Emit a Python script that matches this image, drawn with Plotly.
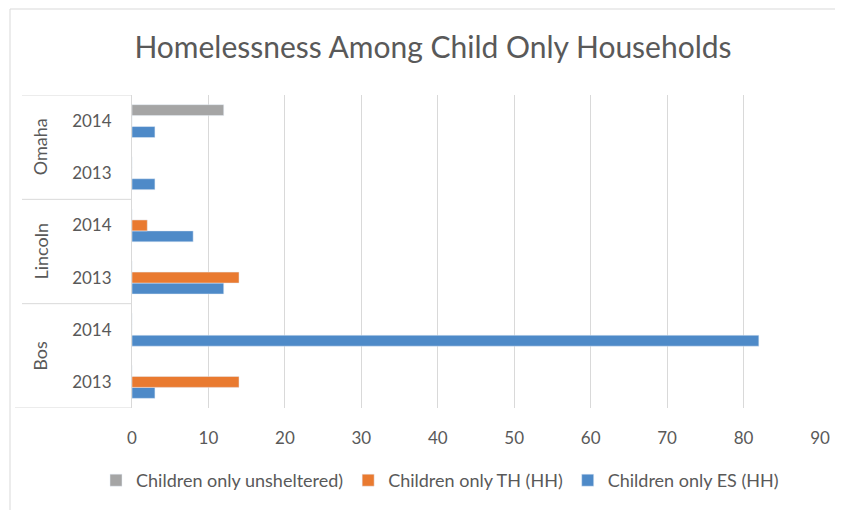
import plotly.graph_objects as go

# ---- data ----
cities = ["Bos", "Bos", "Lincoln", "Lincoln", "Omaha", "Omaha"]
years = ["2013", "2014", "2013", "2014", "2013", "2014"]
es_hh = [3, 82, 12, 8, 3, 3]
th_hh = [14, 0, 14, 2, 0, 0]
unsheltered = [0, 0, 0, 0, 0, 12]
x_ticks = [0, 10, 20, 30, 40, 50, 60, 70, 80, 90]
group_names = ["Bos", "Lincoln", "Omaha"]

cats = [f"{c} {y}" for c, y in zip(cities, years)]

FONT = "Lato"
TXT = "#595959"
OFF = 8  # page body margin offset

fig = go.Figure()
fig.add_trace(go.Bar(y=cats, x=es_hh, orientation="h", name="Children only ES (HH)",
                     marker=dict(color="#4E8AC8")))
fig.add_trace(go.Bar(y=cats, x=th_hh, orientation="h", name="Children only TH (HH)",
                     marker=dict(color="#E97A30")))
fig.add_trace(go.Bar(y=cats, x=unsheltered, orientation="h", name="Children only unsheltered)",
                     marker=dict(color="#A5A5A5")))

# target (reference) pixel geometry
PL, PR, PT, PB = 132, 820, 95, 408
W, H = 843 - OFF, 510 - OFF
L, T = PL - OFF, PT - OFF
R = W - (PR - OFF)
B = H - (PB - OFF)
pw, ph = PR - PL, PB - PT

def px(xpix):
    return (xpix - PL) / pw

def py(ypix):
    return (PB - ypix) / ph

shapes = []
# chart border
shapes.append(dict(type="rect", xref="paper", yref="paper", x0=px(10), x1=px(860),
                   y0=py(530), y1=py(9), line=dict(color="#D9D9D9", width=1)))
# category separators
for yv, x0 in [(5.5, 22), (3.5, 22), (1.5, 22), (-0.5, 15)]:
    shapes.append(dict(type="line", xref="paper", yref="y", x0=px(x0), x1=0,
                       y0=yv, y1=yv, line=dict(color="#D9D9D9", width=1)))

annotations = []
for i, g in enumerate(group_names):
    annotations.append(dict(text=g, xref="paper", yref="y", x=px(40), y=2 * i + 0.5,
                            xanchor="center", yanchor="middle",
                            textangle=-90, showarrow=False,
                            font=dict(family=FONT, size=18, color=TXT)))

fig.update_layout(
    width=W, height=H,
    margin=dict(l=L, r=R, t=T, b=B, autoexpand=False),
    paper_bgcolor="white", plot_bgcolor="white",
    barmode="group", bargap=0.37, bargroupgap=0,
    title=dict(text="Homelessness Among Child Only Households", xref="paper",
               x=px(433), xanchor="center", y=1 - (47 - OFF) / H, yanchor="middle",
               yref="container",
               font=dict(family=FONT, size=30, color=TXT)),
    xaxis=dict(range=[0, 90], tickvals=x_ticks, showgrid=True, gridcolor="#D9D9D9",
               zeroline=False, showline=False, ticks="", ticklabelstandoff=18,
               tickfont=dict(family=FONT, size=17, color=TXT)),
    yaxis=dict(type="category", categoryorder="array", categoryarray=cats,
               tickvals=cats, ticktext=years, range=[-0.5, 5.5],
               showline=True, linecolor="#D9D9D9", showgrid=False, ticks="",
               ticklabelstandoff=16,
               tickfont=dict(family=FONT, size=17, color=TXT)),
    legend=dict(orientation="h", traceorder="reversed", xref="container",
                x=(440 - OFF) / W, xanchor="center",
                yref="container", y=1 - (462 - OFF) / H, yanchor="top",
                itemwidth=30, tracegroupgap=0,
                font=dict(family=FONT, size=18, color=TXT)),
    shapes=shapes, annotations=annotations,
    showlegend=True,
)

fig.write_html("out.html")
